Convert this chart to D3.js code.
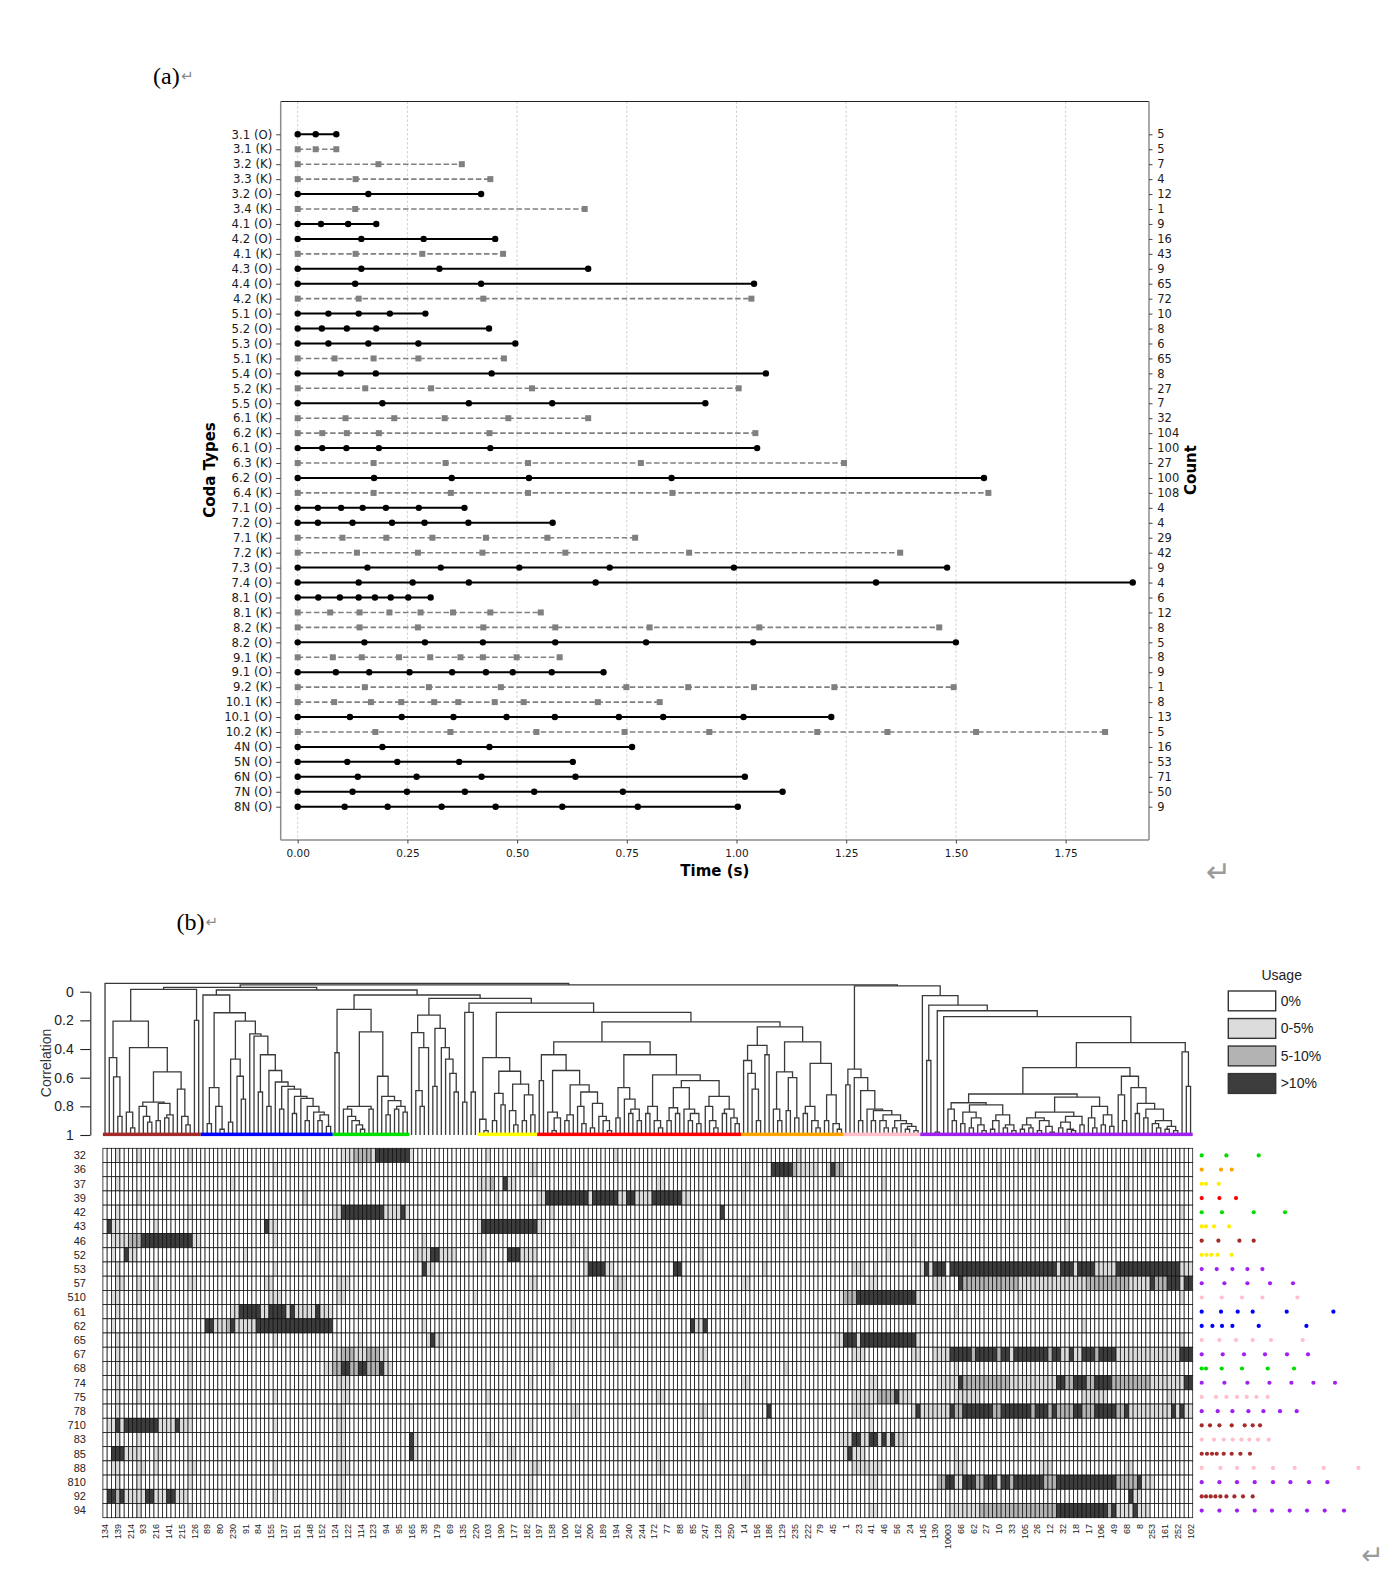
<!DOCTYPE html>
<html>
<head>
<meta charset="utf-8">
<script src="https://cdn.jsdelivr.net/npm/d3@7"></script>
<style>
  html, body { margin: 0; padding: 0; background: #fff; }
  svg { display: block; }
</style>
</head>
<body>
<svg id="figure" width="1387" height="1583"></svg>
<script>
// ───────── panel (a): coda rhythm templates ─────────
const codaLabels = ["3.1 (O)","3.1 (K)","3.2 (K)","3.3 (K)","3.2 (O)","3.4 (K)","4.1 (O)","4.2 (O)","4.1 (K)","4.3 (O)",
  "4.4 (O)","4.2 (K)","5.1 (O)","5.2 (O)","5.3 (O)","5.1 (K)","5.4 (O)","5.2 (K)","5.5 (O)","6.1 (K)","6.2 (K)","6.1 (O)",
  "6.3 (K)","6.2 (O)","6.4 (K)","7.1 (O)","7.2 (O)","7.1 (K)","7.2 (K)","7.3 (O)","7.4 (O)","8.1 (O)","8.1 (K)","8.2 (K)",
  "8.2 (O)","9.1 (K)","9.1 (O)","9.2 (K)","10.1 (K)","10.1 (O)","10.2 (K)","4N (O)","5N (O)","6N (O)","7N (O)","8N (O)"];

const codaCounts = [5,5,7,4,12,1,9,16,43,9,65,72,10,8,6,65,8,27,7,32,104,100,27,100,108,4,4,29,42,9,4,6,12,8,5,8,9,1,8,13,5,16,53,71,50,9];

// click times in seconds, one list per coda type
const codaClickTimes = [
  [0,0.041,0.088],
  [0,0.041,0.088],
  [0,0.184,0.374],
  [0,0.132,0.439],
  [0,0.161,0.418],
  [0,0.131,0.654],
  [0,0.053,0.115,0.179],
  [0,0.145,0.287,0.450],
  [0,0.132,0.284,0.468],
  [0,0.145,0.323,0.662],
  [0,0.131,0.418,1.040],
  [0,0.139,0.423,1.034],
  [0,0.070,0.139,0.210,0.291],
  [0,0.055,0.112,0.179,0.436],
  [0,0.070,0.161,0.275,0.496],
  [0,0.084,0.173,0.275,0.470],
  [0,0.098,0.178,0.442,1.067],
  [0,0.154,0.304,0.534,1.005],
  [0,0.193,0.390,0.580,0.929],
  [0,0.109,0.220,0.335,0.480,0.662],
  [0,0.056,0.112,0.185,0.437,1.043],
  [0,0.056,0.111,0.185,0.439,1.047],
  [0,0.173,0.337,0.525,0.782,1.245],
  [0,0.174,0.351,0.527,0.852,1.564],
  [0,0.173,0.349,0.525,0.854,1.574],
  [0,0.046,0.099,0.148,0.201,0.276,0.380],
  [0,0.046,0.125,0.215,0.289,0.389,0.581],
  [0,0.102,0.202,0.307,0.429,0.569,0.769],
  [0,0.135,0.274,0.421,0.610,0.892,1.373],
  [0,0.159,0.326,0.505,0.711,0.994,1.480],
  [0,0.139,0.262,0.390,0.679,1.318,1.903],
  [0,0.047,0.096,0.139,0.176,0.212,0.252,0.303],
  [0,0.074,0.141,0.209,0.280,0.354,0.439,0.554],
  [0,0.141,0.274,0.423,0.587,0.802,1.052,1.462],
  [0,0.152,0.290,0.422,0.587,0.794,1.038,1.500],
  [0,0.080,0.146,0.231,0.302,0.371,0.422,0.499,0.597],
  [0,0.087,0.163,0.255,0.352,0.429,0.490,0.579,0.697],
  [0,0.153,0.299,0.463,0.749,0.890,1.040,1.223,1.495],
  [0,0.083,0.167,0.236,0.311,0.366,0.449,0.515,0.684,0.825],
  [0,0.119,0.237,0.355,0.476,0.586,0.732,0.833,1.016,1.216],
  [0,0.177,0.348,0.544,0.745,0.938,1.184,1.344,1.546,1.840],
  [0,0.193,0.437,0.762],
  [0,0.113,0.227,0.368,0.627],
  [0,0.137,0.271,0.419,0.633,1.019],
  [0,0.125,0.249,0.381,0.539,0.741,1.105],
  [0,0.107,0.205,0.328,0.451,0.603,0.775,1.003]
];

const timeTicks = [0, 0.25, 0.5, 0.75, 1.0, 1.25, 1.5, 1.75];

// ───────── panel (b): dendrogram + usage heatmap ─────────
// dendrogram nodes: [correlation at merge, left, right]; 0 = leaf
const dendBrown = [-0.016,
  [0.205,
    [0.46, 0, [0.595, 0, [0.87, 0, 0]]],
    [0.39,
      [0.84, 0, [0.95, 0, 0]],
      [0.56,
        [0.77,
          [0.8, 0, [0.87, 0, [0.91, 0, 0]]],
          [0.78, [0.9, 0, 0], [0.86, [0.88, 0, 0], 0]]],
        [0.68, 0, [0.87, 0, [0.93, 0, 0]]]]]],
  [0.2, 0, 0]];

const dendBlue = [0.023, 0,
  [0.147,
    [0.67, [0.92, 0, 0], [0.8, 0, [0.96, 0, 0]]],
    [0.205,
      [0.47, [0.91, 0, 0], [0.59, 0, [0.75, 0, 0]]],
      [0.295, 0,
        [0.31, 0,
          [0.44, [0.7, 0, 0],
            [0.55, [0.8, 0, 0],
              [0.63, 0,
                [0.66, [0.82, 0, 0],
                  [0.68, 0,
                    [0.73, [0.85, 0, 0],
                      [0.745, 0,
                        [0.8, [0.9, 0, 0],
                          [0.84, 0,
                            [0.86, [0.9, 0, 0], [0.94, 0, 0]]]]]]]]]]]]]]]];

const dendGreen = [0.123, [0.426, 0, 0],
  [0.28,
    [0.8, [0.82, 0, [0.87, 0, [0.9, 0, [0.93, 0, [0.96, 0, 0]]]]], [0.82, 0, 0]],
    [0.59, 0, [0.73, 0, [0.76, [0.86, 0, 0], [0.8, [0.82, 0, 0], [0.84, 0, 0]]]]]]];

const dendPlain1 = [0.163,
  [0.286, 0, [0.39, [0.69, 0, [0.8, 0, 0]], 0]],
  [0.256, [0.66, 0, 0], [0.39, 0, [0.47, 0, [0.57, 0, [0.7, 0, 0]]]]]];

const dendPlain2 = [0.144, [0.77, 0, 0], [0.7, 0, 0]];

const dendYellow = [0.46, [0.89, 0, [0.97, 0, 0]],
  [0.555, [0.71, [0.9, 0, 0], [0.79, 0, 0]],
    [0.645, [0.83, 0, [0.93, 0, 0]], [0.72, [0.9, 0, 0], [0.86, 0, 0]]]]];

const dendRed = [0.35,
  [0.44, [0.62, 0, 0],
    [0.55, [0.84, 0, [0.88, [0.97, 0, 0], 0]],
      [0.65, [0.86, [0.9, 0, 0], 0],
        [0.7, [0.8, 0, [0.92, 0, 0]],
          [0.78, [0.95, 0, 0], [0.87, 0, [0.9, 0, [0.97, 0, 0]]]]]]]],
  [0.44,
    [0.67, [0.88, 0, 0], [0.75, 0, [0.82, [0.85, 0, 0], [0.9, 0, 0]]]],
    [0.58,
      [0.8, [0.85, 0, 0], [0.9, 0, [0.95, 0, 0]]],
      [0.62,
        [0.67, [0.81, [0.9, 0, 0], [0.85, 0, 0]], [0.82, 0, [0.85, [0.9, 0, 0], [0.92, 0, 0]]]],
        [0.73, [0.8, 0, [0.9, 0, [0.95, 0, 0]]], [0.82, [0.85, 0, 0], [0.88, 0, [0.92, 0, 0]]]]]]]];

const dendOrange = [0.245,
  [0.375, [0.48, 0, [0.57, 0, [0.68, 0, [0.9, 0, 0]]]], [0.44, 0, 0]],
  [0.35,
    [0.56, [0.82, 0, [0.9, 0, 0]], [0.6, [0.83, 0, 0], [0.88, 0, 0]]],
    [0.5, [0.8, [0.85, 0, 0], [0.9, 0, [0.95, 0, 0]]], [0.72, [0.9, 0, 0], [0.92, 0, [0.96, 0, 0]]]]]];

const dendPink = [0.54, [0.65, 0, 0],
  [0.6, 0,
    [0.69, [0.9, 0, 0],
      [0.82, 0,
        [0.83, [0.9, 0, 0],
          [0.86, [0.9, 0, [0.95, 0, 0]],
            [0.9, [0.95, 0, 0], [0.92, 0, [0.94, [0.96, 0, 0], [0.97, 0, 0]]]]]]]]]];

const dendPurple = [0.028, 0,
  [0.093, [0.48, 0, 0],
    [0.133, [0.98, 0, 0],
      [0.174, 0,
        [0.356,
          [0.53,
            [0.714,
              [0.775, [0.82, 0, [0.9, 0, 0]],
                [0.79,
                  [0.84, [0.92, 0, 0], [0.88, [0.95, 0, 0], [0.93, 0, [0.97, 0, 0]]]],
                  [0.86, [0.9, [0.96, 0, 0], 0], [0.93, [0.95, 0, 0], [0.97, 0, 0]]]]],
              [0.735,
                [0.84, [0.88, [0.93, [0.96, 0, 0], [0.95, 0, 0]], [0.9, [0.97, 0, 0], [0.94, 0, [0.98, 0, 0]]]],
                       [0.87, [0.91, [0.95, 0, 0], [0.96, 0, [0.97, 0, 0]]], [0.93, 0, 0]]],
                [0.8, [0.88, 0, [0.95, 0, 0]], [0.86, [0.93, 0, 0], [0.94, 0, 0]]]]],
            [0.59, [0.72, 0, [0.9, 0, 0]],
              [0.67, 0, [0.78, [0.85, 0, 0], [0.82, [0.88, 0, 0], [0.9, [0.92, 0, [0.95, 0, 0]], [0.94, [0.96, 0, 0], [0.97, 0, 0]]]]]]]],
          [0.42, 0, [0.66, 0, 0]]]]]]];

const dendTree = [-0.058, 0,
  [-0.047,
    [-0.03, dendBrown,
      [-0.012, dendBlue, [0.023, dendGreen, [0.047, dendPlain1, [0.08, dendPlain2, [0.144, dendYellow, [0.21, dendRed, dendOrange]]]]]]],
    [-0.04, dendPink, dendPurple]]];

// coloured cluster bars under the dendrogram (leaf index ranges)
const clusterBands = [
  { color: "#a52a2a", from: 0, to: 22 },
  { color: "#0000ff", from: 23, to: 53 },
  { color: "#00e000", from: 54, to: 71 },
  { color: "#ffff00", from: 88, to: 101 },
  { color: "#ff0000", from: 102, to: 149 },
  { color: "#ffa500", from: 150, to: 173 },
  { color: "#ffc0cb", from: 174, to: 191 },
  { color: "#a020f0", from: 192, to: 255 }
];

const corrTicks = [0, 0.2, 0.4, 0.6, 0.8, 1];

// heatmap rows (coda types)
const rowTypes = ["32","36","37","39","42","43","46","52","53","57","510","61","62","65","67","68","74","75","78","710","83","85","88","810","92","94"];

// usage per row as runs [fromCol, toCol, level]; level 0 = 0%, 1 = 0-5%, 2 = 5-10%, 3 = >10%
const usageRuns = [
  [[3,3,1],[8,8,1],[20,20,1],[56,58,1],[59,62,2],[63,63,1],[64,71,3],[72,72,1],[90,90,1],[120,120,1],[163,163,1],[219,219,1],[244,244,1]],
  [[13,13,1],[40,40,1],[60,60,1],[100,101,1],[150,151,1],[157,161,3],[162,162,2],[163,167,1],[170,170,1],[171,171,3],[172,173,2],[210,210,1]],
  [[3,3,1],[30,30,1],[88,90,1],[91,91,2],[94,94,3],[95,96,1],[130,131,1],[183,183,1],[240,240,1]],
  [[8,8,1],[47,47,1],[92,92,1],[102,103,1],[104,113,3],[114,114,1],[115,120,3],[121,122,1],[123,124,3],[125,128,1],[129,135,3],[136,137,1],[150,150,1],[200,200,1],[235,235,1]],
  [[3,3,1],[20,20,1],[54,55,1],[56,65,3],[66,69,1],[70,70,3],[71,71,1],[105,105,1],[145,145,3],[160,160,1],[253,253,1]],
  [[1,1,3],[2,3,1],[12,12,1],[38,38,3],[39,40,1],[57,57,1],[88,88,1],[89,101,3],[102,103,1],[170,170,1],[226,226,1]],
  [[2,3,1],[4,5,1],[6,8,2],[9,20,3],[21,22,1],[40,40,1],[75,75,1],[110,110,1],[190,190,1]],
  [[2,2,1],[5,5,3],[6,7,1],[33,33,1],[50,50,1],[73,76,1],[77,78,3],[79,82,1],[88,89,1],[95,97,3],[98,101,1],[113,113,1],[140,140,1],[184,184,1]],
  [[3,3,1],[40,40,1],[75,75,3],[76,77,1],[113,113,1],[114,117,3],[118,119,1],[134,135,3],[155,155,1],[176,178,1],[181,181,1],[192,192,1],[193,193,3],[194,194,1],[195,197,3],[199,223,3],[224,224,1],[225,227,3],[228,228,1],[229,232,3],[233,237,1],[238,252,3],[253,255,1]],
  [[3,4,1],[8,8,1],[12,12,1],[20,21,1],[38,39,1],[55,57,1],[100,101,1],[120,122,1],[150,151,1],[180,181,1],[195,197,1],[201,201,3],[202,214,2],[215,230,1],[231,240,2],[241,245,1],[246,246,3],[247,249,2],[250,252,3],[253,253,1],[254,255,3]],
  [[2,3,1],[8,8,1],[39,41,1],[55,56,1],[87,87,1],[130,130,1],[173,173,1],[174,176,2],[177,190,3],[191,191,1],[215,215,1],[253,253,1]],
  [[3,3,1],[20,20,1],[30,31,1],[32,36,3],[37,38,1],[39,42,3],[43,43,1],[44,44,3],[45,49,1],[50,50,3],[51,53,1],[60,60,1],[95,95,1],[150,150,1],[200,200,1]],
  [[2,2,1],[8,8,1],[24,25,3],[26,28,1],[29,29,2],[30,30,3],[31,35,1],[36,53,3],[75,75,1],[110,110,1],[138,138,3],[139,140,1],[141,141,3],[175,175,1],[230,230,1]],
  [[3,3,1],[8,8,1],[40,40,1],[60,60,1],[76,76,1],[77,77,3],[78,79,1],[120,120,1],[172,173,1],[174,176,3],[177,177,1],[178,190,3],[191,191,1],[253,253,1]],
  [[3,3,1],[8,8,1],[20,20,1],[54,55,1],[56,58,2],[59,61,1],[62,64,2],[65,66,1],[100,100,1],[140,141,1],[176,178,1],[190,191,1],[195,198,1],[199,203,3],[204,204,2],[205,209,3],[210,210,2],[211,212,3],[213,213,1],[214,221,3],[222,222,2],[223,224,3],[225,226,1],[227,227,3],[228,229,1],[230,232,3],[233,233,2],[234,237,3],[238,252,1],[253,255,3]],
  [[3,3,1],[20,20,1],[52,53,1],[54,55,2],[56,57,3],[58,59,2],[60,61,3],[62,64,2],[65,65,3],[66,67,1],[105,105,1],[160,160,1],[200,200,1]],
  [[3,3,1],[8,8,1],[20,20,1],[55,57,1],[100,100,1],[150,151,1],[180,181,1],[196,200,1],[201,201,3],[202,212,2],[213,223,1],[224,225,3],[226,227,2],[228,230,3],[231,232,2],[233,236,3],[237,245,2],[246,253,1],[254,255,3]],
  [[3,3,1],[8,8,1],[20,20,1],[40,40,1],[56,57,1],[90,90,1],[130,131,1],[176,181,1],[182,185,2],[186,186,3],[187,189,1],[200,205,1],[230,235,1],[250,251,1]],
  [[3,3,1],[20,20,1],[55,56,1],[72,72,1],[110,111,1],[140,141,1],[156,156,3],[176,180,1],[190,190,1],[191,191,3],[192,198,1],[199,199,3],[200,201,2],[202,208,3],[209,210,2],[211,217,3],[218,218,2],[219,221,3],[222,222,2],[223,223,3],[224,227,2],[228,229,3],[230,232,2],[233,237,3],[238,239,2],[240,240,3],[241,250,1],[251,251,3],[252,252,1],[253,253,3],[254,255,1]],
  [[1,2,1],[3,3,3],[4,4,1],[5,12,3],[13,16,1],[17,17,3],[18,20,1],[40,40,1],[55,56,1],[100,100,1],[180,180,1],[215,215,1]],
  [[3,3,1],[8,8,1],[55,56,1],[72,72,3],[73,73,1],[90,91,1],[140,140,1],[173,175,1],[176,177,3],[178,179,1],[180,181,3],[182,182,1],[183,183,3],[184,184,1],[185,185,3],[186,188,1],[220,220,1]],
  [[2,4,3],[5,8,1],[12,13,1],[20,20,1],[55,56,1],[72,72,3],[73,73,1],[95,96,1],[130,130,1],[174,174,1],[175,175,3],[176,178,1],[200,200,1]],
  [[2,3,1],[8,9,1],[12,12,1],[20,21,1],[40,40,1],[55,57,1],[76,76,1],[100,102,1],[130,131,1],[155,155,1],[176,182,1],[200,202,1],[220,222,1],[240,241,1]],
  [[3,3,1],[8,8,1],[20,20,1],[55,56,1],[100,100,1],[150,151,1],[180,181,1],[196,197,2],[198,199,3],[200,201,1],[202,204,3],[205,206,2],[207,209,3],[210,210,1],[211,212,3],[213,213,2],[214,220,3],[221,223,2],[224,237,3],[238,242,2],[243,243,3],[244,246,1]],
  [[1,2,3],[3,3,2],[4,4,3],[5,9,1],[10,11,3],[12,14,1],[15,16,3],[17,19,1],[40,40,1],[55,56,1],[100,100,1],[241,241,3],[242,243,1]],
  [[3,3,1],[8,8,1],[20,20,1],[55,56,1],[100,100,1],[130,131,1],[180,181,1],[198,205,1],[206,223,2],[224,235,3],[236,236,2],[237,237,3],[238,241,1],[242,242,3],[243,245,1]]
];

const usageLevels = ["0%", "0-5%", "5-10%", ">10%"];
const usageFill = ["#ffffff", "#dcdcdc", "#b3b3b3", "#3c3c3c"];

// coda rhythm dots drawn at the right of each heatmap row (relative inter-click times)
const rowDotColor = ["#00dd00","#ffa500","#ffee00","#ff0000","#00dd00","#ffee00","#a52a2a","#ffee00","#a020f0","#a020f0",
  "#ffc0cb","#0000ff","#0000ff","#ffc0cb","#a020f0","#00dd00","#a020f0","#ffc0cb","#a020f0","#a52a2a","#ffc0cb","#a52a2a",
  "#ffc0cb","#a020f0","#a52a2a","#a020f0"];
const rowRhythms = [
  [0,0.247,0.570],
  [0,0.193,0.300],
  [0,0.043,0.170],
  [0,0.177,0.343],
  [0,0.203,0.520,0.833],
  [0,0.043,0.123,0.273],
  [0,0.167,0.377,0.520],
  [0,0.047,0.097,0.160,0.300],
  [0,0.150,0.307,0.457,0.607],
  [0,0.227,0.457,0.683,0.913],
  [0,0.200,0.403,0.607,0.957],
  [0,0.193,0.360,0.510,0.850,1.317],
  [0,0.107,0.203,0.307,0.570,1.047],
  [0,0.177,0.343,0.510,0.693,1.010],
  [0,0.210,0.423,0.633,0.853,1.063],
  [0,0.043,0.200,0.403,0.660,0.923],
  [0,0.227,0.457,0.677,0.897,1.117,1.333],
  [0,0.143,0.247,0.353,0.450,0.547,0.660],
  [0,0.160,0.307,0.467,0.617,0.783,0.950],
  [0,0.083,0.177,0.300,0.430,0.510,0.583],
  [0,0.123,0.220,0.310,0.397,0.477,0.563,0.670],
  [0,0.053,0.103,0.150,0.220,0.300,0.387,0.483],
  [0,0.187,0.353,0.520,0.713,0.930,1.220,1.567],
  [0,0.177,0.353,0.530,0.713,0.887,1.073,1.257],
  [0,0.043,0.090,0.137,0.187,0.247,0.327,0.413,0.510],
  [0,0.177,0.353,0.530,0.703,0.880,1.053,1.230,1.423]
];

// every third column is labelled under the heatmap
const colTickLabels = ["134","139","214","93","216","141","215","126","89","80","230","91","84","155","137","151","148","152",
  "124","122","114","123","94","95","165","38","179","69","135","220","103","190","177","182","197","158","100","162","200",
  "189","194","240","244","172","77","88","85","247","128","250","14","156","186","129","235","222","79","45","1","23","41",
  "46","56","24","145","130","10003","66","62","27","10","33","105","26","12","32","18","17","106","49","68","8","253","161",
  "252","102"];

// ───────── drawing ─────────
const svg = d3.select("#figure");
const SANS = "DejaVu Sans";
const ARIAL = "Liberation Sans";

// panel labels with Word paragraph marks
svg.append("text").attr("x", 153).attr("y", 84).attr("font-family", "Liberation Serif").attr("font-size", 24).text("(a)");
svg.append("text").attr("x", 181).attr("y", 81).attr("font-family", SANS).attr("font-size", 15).attr("fill", "#8a8a8a").text("↵");
svg.append("text").attr("x", 176.5).attr("y", 930).attr("font-family", "Liberation Serif").attr("font-size", 24).text("(b)");
svg.append("text").attr("x", 205.5).attr("y", 927).attr("font-family", SANS).attr("font-size", 15).attr("fill", "#8a8a8a").text("↵");
svg.append("text").attr("x", 1206).attr("y", 882).attr("font-family", SANS).attr("font-size", 30).attr("fill", "#9a9a9a").text("↵");
svg.append("text").attr("x", 1361).attr("y", 1564).attr("font-family", SANS).attr("font-size", 27).attr("fill", "#9a9a9a").text("↵");

// ── panel (a)
const gA = svg.append("g").attr("class", "panel-a");
const frameA = { left: 280.7, right: 1149, top: 101.5, bottom: 840 };
const xA = d3.scaleLinear().domain([0, 1.75]).range([297.7, 1065.6]);
const yA = d3.scalePoint().domain(d3.range(codaLabels.length)).range([134.3, 806.7]);
const isK = i => codaLabels[i].includes("(K)");

gA.selectAll("line.grid").data(timeTicks).join("line")
  .attr("class", "grid")
  .attr("x1", d => xA(d)).attr("x2", d => xA(d))
  .attr("y1", frameA.top).attr("y2", frameA.bottom)
  .attr("stroke", "#cccccc").attr("stroke-width", 0.9).attr("stroke-dasharray", "2.5,2");

const codaG = gA.selectAll("g.coda").data(codaClickTimes).join("g").attr("class", "coda");
codaG.append("line")
  .attr("x1", d => xA(d[0])).attr("x2", d => xA(d3.max(d)))
  .attr("y1", (d, i) => yA(i)).attr("y2", (d, i) => yA(i))
  .attr("stroke", (d, i) => isK(i) ? "#808080" : "#000")
  .attr("stroke-width", (d, i) => isK(i) ? 1.6 : 2)
  .attr("stroke-dasharray", (d, i) => isK(i) ? "5.5,2.6" : null);
codaG.each(function (d, i) {
  const g = d3.select(this);
  if (isK(i)) {
    g.selectAll("rect").data(d).join("rect")
      .attr("x", t => xA(t) - 3).attr("y", yA(i) - 3).attr("width", 6).attr("height", 6)
      .attr("fill", "#808080");
  } else {
    g.selectAll("circle").data(d).join("circle")
      .attr("cx", t => xA(t)).attr("cy", yA(i)).attr("r", 3.2).attr("fill", "#000");
  }
});

// spines
gA.append("line").attr("x1", frameA.left).attr("x2", frameA.right).attr("y1", frameA.top).attr("y2", frameA.top)
  .attr("stroke", "#222").attr("stroke-width", 1.2);
gA.append("line").attr("x1", frameA.left).attr("x2", frameA.left).attr("y1", frameA.top).attr("y2", frameA.bottom)
  .attr("stroke", "#8c8c8c").attr("stroke-width", 1.5);
gA.append("line").attr("x1", frameA.right).attr("x2", frameA.right).attr("y1", frameA.top).attr("y2", frameA.bottom)
  .attr("stroke", "#8c8c8c").attr("stroke-width", 1.5);
gA.append("line").attr("x1", frameA.left).attr("x2", frameA.right).attr("y1", frameA.bottom).attr("y2", frameA.bottom)
  .attr("stroke", "#8c8c8c").attr("stroke-width", 1.5);

const styleAxis = (g, size) => {
  g.select(".domain").remove();
  g.attr("font-family", SANS).attr("font-size", size);
  g.selectAll("text").attr("fill", "#1a1a1a");
  g.selectAll(".tick line").attr("stroke", "#444").attr("stroke-width", 1);
};
gA.append("g").attr("transform", `translate(${frameA.left},0)`)
  .call(d3.axisLeft(yA).tickFormat(i => codaLabels[i]).tickSize(4.5).tickPadding(4))
  .call(g => styleAxis(g, 11.7));
gA.append("g").attr("transform", `translate(${frameA.right},0)`)
  .call(d3.axisRight(yA).tickFormat(i => codaCounts[i]).tickSize(3.5).tickPadding(4.8))
  .call(g => styleAxis(g, 11.5));
gA.append("g").attr("transform", `translate(0,${frameA.bottom})`)
  .call(d3.axisBottom(xA).tickValues(timeTicks).tickFormat(d3.format(".2f")).tickSize(3.5).tickPadding(6))
  .call(g => styleAxis(g, 10.5));

gA.append("text").attr("x", (frameA.left + frameA.right) / 2).attr("y", 875.5)
  .attr("text-anchor", "middle").attr("font-family", SANS).attr("font-weight", "bold").attr("font-size", 15)
  .text("Time (s)");
gA.append("text").attr("transform", "translate(209.6,470) rotate(-90)")
  .attr("text-anchor", "middle").attr("dominant-baseline", "central")
  .attr("font-family", SANS).attr("font-weight", "bold").attr("font-size", 15).text("Coda Types");
gA.append("text").attr("transform", "translate(1190.6,470) rotate(-90)")
  .attr("text-anchor", "middle").attr("dominant-baseline", "central")
  .attr("font-family", SANS).attr("font-weight", "bold").attr("font-size", 15).text("Count");

// ── panel (b)
const gB = svg.append("g").attr("class", "panel-b");
const root = d3.hierarchy(dendTree, d => Array.isArray(d) ? d.slice(1) : null);
const leaves = root.leaves();
const nLeaves = leaves.length;

const xCol = d3.scaleBand().domain(d3.range(nLeaves)).range([102.9, 1192.7]);
const yCorr = d3.scaleLinear().domain([0, 1]).range([991.7, 1135]);
const yRow = d3.scaleBand().domain(rowTypes).range([1148.3, 1517.7]);

leaves.forEach((l, i) => { l.x = xCol(i) + xCol.bandwidth() / 2; });
root.eachAfter(n => {
  n.h = n.children ? n.data[0] : 1;
  if (n.children) n.x = d3.mean(n.children, c => c.x);
});

// dendrogram links
gB.append("g").selectAll("path").data(root.descendants().filter(n => n.children)).join("path")
  .attr("d", n => {
    const [a, b] = n.children;
    return `M${a.x},${yCorr(a.h)}V${yCorr(n.h)}H${b.x}V${yCorr(b.h)}`;
  })
  .attr("fill", "none").attr("stroke", "#3a3a3a").attr("stroke-width", 1.3);

// cluster colour bars
gB.append("g").selectAll("rect").data(clusterBands).join("rect")
  .attr("x", d => xCol(d.from)).attr("width", d => xCol(d.to) + xCol.bandwidth() - xCol(d.from))
  .attr("y", 1132.6).attr("height", 3.5).attr("fill", d => d.color);

// correlation axis
gB.append("g").attr("transform", "translate(90.3,0)")
  .call(d3.axisLeft(yCorr).tickValues(corrTicks).tickFormat(d => (d === 0 || d === 1) ? String(d) : d3.format(".1f")(d))
    .tickSize(10).tickSizeOuter(0).tickPadding(6.5))
  .call(g => {
    g.attr("font-family", ARIAL).attr("font-size", 14);
    g.selectAll("text").attr("fill", "#222");
    g.selectAll("line, path").attr("stroke", "#222").attr("stroke-width", 1.1);
  });
gB.append("text").attr("transform", "translate(45.5,1063) rotate(-90)")
  .attr("text-anchor", "middle").attr("dominant-baseline", "central")
  .attr("font-family", ARIAL).attr("font-size", 14).attr("fill", "#333").text("Correlation");

// heatmap cells
const usageMatrix = rowTypes.map((r, ri) => {
  const row = new Array(nLeaves).fill(0);
  usageRuns[ri].forEach(([a, b, lv]) => { for (let c = a; c <= b && c < nLeaves; c++) row[c] = lv; });
  return row;
});
const cells = usageMatrix.flatMap((row, ri) => row.map((lv, ci) => ({ r: rowTypes[ri], c: ci, lv })));
gB.append("g").selectAll("rect").data(cells).join("rect")
  .attr("x", d => xCol(d.c)).attr("y", d => yRow(d.r))
  .attr("width", xCol.bandwidth()).attr("height", yRow.bandwidth())
  .attr("fill", d => usageFill[d.lv]).attr("stroke", "#111").attr("stroke-width", 0.75);

// row labels
gB.append("g").selectAll("text").data(rowTypes).join("text")
  .attr("x", 85.9).attr("y", d => yRow(d) + yRow.bandwidth() / 2).attr("dy", "0.35em")
  .attr("text-anchor", "end").attr("font-family", ARIAL).attr("font-size", 11).attr("fill", "#222")
  .text(d => d);

// column labels (every third leaf)
gB.append("g").selectAll("text").data(colTickLabels).join("text")
  .attr("transform", (d, i) => `translate(${xCol(i * 3) + xCol.bandwidth() / 2},1524) rotate(-90)`)
  .attr("dy", "0.35em").attr("text-anchor", "end")
  .attr("font-family", ARIAL).attr("font-size", 9).attr("fill", "#222")
  .text(d => d);

// rhythm dots
const xRhythm = d3.scaleLinear().domain([0, 1]).range([1201.7, 1301.7]);
const dotG = gB.append("g").selectAll("g").data(rowRhythms).join("g");
dotG.selectAll("circle").data((d, i) => d.map(t => ({ t, i }))).join("circle")
  .attr("cx", d => xRhythm(d.t)).attr("cy", d => yRow(rowTypes[d.i]) + yRow.bandwidth() / 2)
  .attr("r", 2.1).attr("fill", d => rowDotColor[d.i]);

// legend
const legendY = d3.scalePoint().domain(usageLevels).range([991, 1073.6]);
const legG = gB.append("g");
legG.append("text").attr("x", 1281.7).attr("y", 975).attr("dy", "0.35em").attr("text-anchor", "middle")
  .attr("font-family", ARIAL).attr("font-size", 14).attr("fill", "#222").text("Usage");
legG.selectAll("rect").data(usageLevels).join("rect")
  .attr("x", 1228.3).attr("y", d => legendY(d)).attr("width", 47.4).attr("height", 19.8)
  .attr("fill", (d, i) => usageFill[i]).attr("stroke", "#333").attr("stroke-width", 1.4);
legG.selectAll("text.lab").data(usageLevels).join("text").attr("class", "lab")
  .attr("x", 1280.7).attr("y", d => legendY(d) + 9.9).attr("dy", "0.35em")
  .attr("font-family", ARIAL).attr("font-size", 14).attr("fill", "#222").text(d => d);
</script>
</body>
</html>
